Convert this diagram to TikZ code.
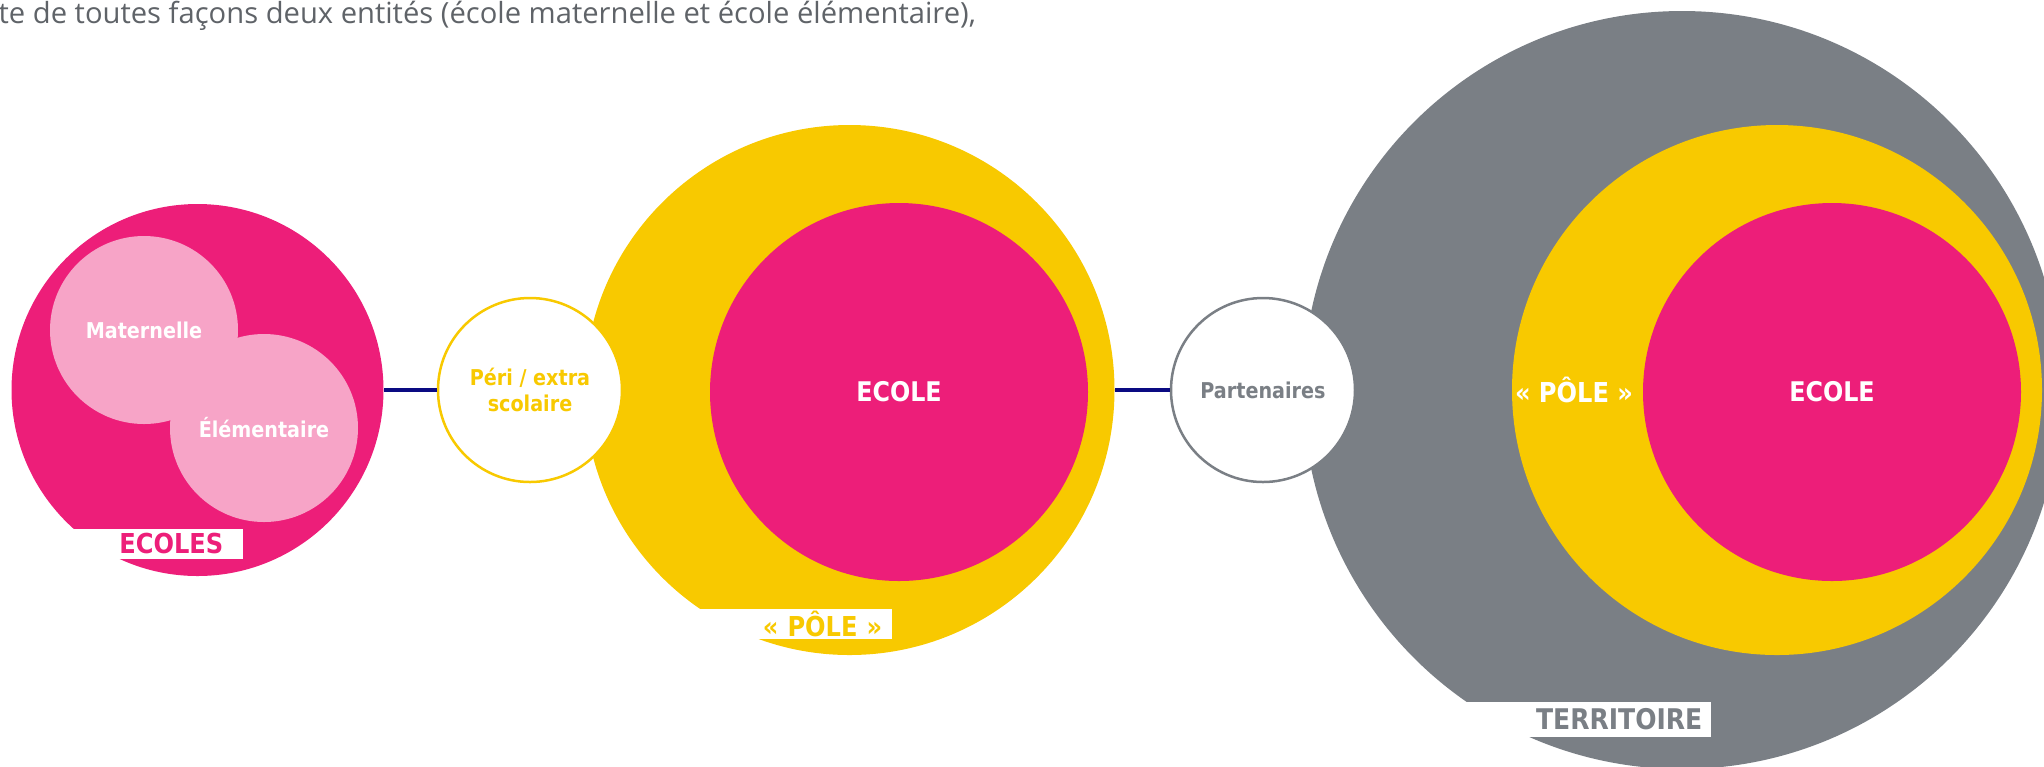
\documentclass[tikz,border=0pt]{standalone}
\usepackage{fontspec}
\setmainfont{DejaVu Sans}[FakeStretch=0.88]
\newfontfamily\introfont{Open Sans}
\definecolor{rose}{HTML}{ED1E79}
\definecolor{roseclair}{HTML}{F7A4C7}
\definecolor{jaune}{HTML}{F8C900}
\definecolor{gris}{HTML}{7A7F85}
\definecolor{marine}{HTML}{0A0A82}
\definecolor{texte}{HTML}{5F6368}
\begin{document}
\begin{tikzpicture}[x=0.1mm, y=-0.1mm,
    disque/.style={circle, inner sep=0pt, text=white, font=\bfseries\fontsize{7.7}{9}\selectfont},
    petit/.style={circle, inner sep=0pt, fill=roseclair, minimum size=18.8mm, text=white, font=\bfseries\fontsize{6.2}{7.3}\selectfont},
    bulle/.style={circle, draw, line width=0.25mm, fill=white, inner sep=0pt, minimum size=18.4mm, align=center, font=\bfseries\fontsize{6.2}{7.3}\selectfont},
    etiquette/.style={fill=white, inner ysep=0pt, anchor=east, align=right, font=\bfseries\fontsize{7.8}{9}\selectfont},
    lien/.style={draw=marine, line width=0.45mm}]
    \clip (0,0) rectangle (2044,766);
    % texte d'introduction
    \node [anchor=base west, inner sep=0pt, text=texte, font=\introfont\fontsize{8.3}{10}\selectfont] (intro) at (-2,23) {te de toutes façons deux entités (école maternelle et école élémentaire),};
    % ecoles
    \node [disque, fill=rose, minimum size=37.2mm] (ecoles) at (197.5,390) {};
    \node [petit] (maternelle) at (144,330) {Maternelle};
    \node [petit] (elementaire) at (264,428) {Élémentaire};
    \node [etiquette, text=rose, minimum height=3mm, text width=16mm, inner xsep=2mm] (tagecoles) at (244,544) {ECOLES};
    % pole
    \node [disque, fill=jaune, minimum size=53mm] (pole) at (849.5,390) {};
    \node [bulle, draw=jaune, text=jaune] (peri) at (530,390) {Péri / extra\\scolaire};
    \node [disque, fill=rose, minimum size=37.8mm] (ecole) at (899,392) {ECOLE};
    \node [etiquette, text=jaune, minimum height=3mm, text width=19mm, inner xsep=1mm] (tagpole) at (893,624) {«~PÔLE~»};
    % territoire
    \node [disque, fill=gris, minimum size=75.8mm] (territoire) at (1682,390) {};
    \node [bulle, draw=gris, text=gris] (partenaires) at (1263,390) {Partenaires};
    \node [disque, fill=jaune, minimum size=53mm,
        label={[anchor=west, inner sep=0.3mm, text=white, font=\bfseries\fontsize{7.8}{9}\selectfont]west:«~PÔLE~»}] (pole2) at (1777,390) {};
    \node [disque, fill=rose, minimum size=37.8mm] (ecole2) at (1832,392) {ECOLE};
    \node [etiquette, text=gris, minimum height=3.5mm, text width=27mm, inner xsep=0.9mm, font=\bfseries\fontsize{8.1}{9}\selectfont] (tagterritoire) at (1712,719) {TERRITOIRE};
    % liens
    \draw [lien] (ecoles.east) -- (peri.west);
    \draw [lien] (pole.east) -- (partenaires.west);
\end{tikzpicture}
\end{document}
